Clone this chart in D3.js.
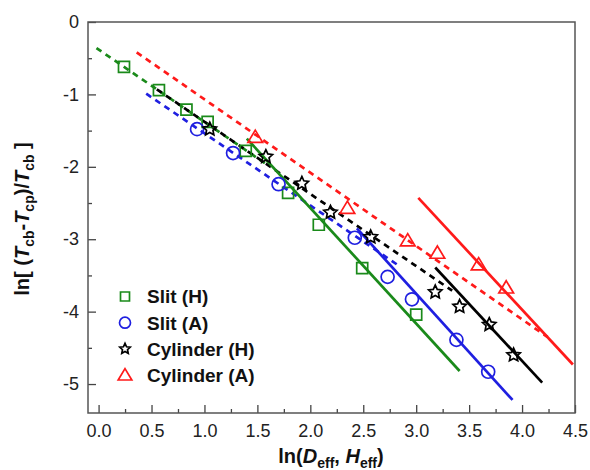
<!DOCTYPE html>
<html>
<head>
<meta charset="utf-8">
<script src="https://cdn.jsdelivr.net/npm/d3@7"></script>
<style>
  body { margin: 0; background: #fff; }
  svg { display: block; font-family: "Liberation Sans", Arial, sans-serif; }
</style>
</head>
<body>
<svg id="chart" width="590" height="470"></svg>
<script>
// ---------- data ----------
const seriesNames = ["Slit (H)", "Slit (A)", "Cylinder (H)", "Cylinder (A)"];
const seriesColors = ["#1a8a1a", "#1f1fe0", "#000000", "#ff1a1a"];
const seriesSymbols = ["square", "circle", "star", "triangle"];

const slitH_x = [0.24, 0.57, 0.83, 1.03, 1.39, 1.79, 2.08, 2.49, 3.00];
const slitH_y = [-0.62, -0.94, -1.21, -1.38, -1.78, -2.36, -2.80, -3.40, -4.04];

const slitA_x = [0.93, 1.27, 1.70, 2.42, 2.73, 2.96, 3.38, 3.68];
const slitA_y = [-1.48, -1.81, -2.24, -2.98, -3.52, -3.83, -4.39, -4.83];

const cylH_x = [1.05, 1.58, 1.92, 2.19, 2.57, 3.18, 3.41, 3.69, 3.92];
const cylH_y = [-1.48, -1.86, -2.23, -2.63, -2.97, -3.73, -3.93, -4.18, -4.60];

const cylA_x = [1.48, 2.35, 2.92, 3.20, 3.59, 3.85];
const cylA_y = [-1.59, -2.57, -3.02, -3.19, -3.35, -3.67];

// fitted lines: [x start, y start, x end, y end]
const dashedFits = [
  [-0.02, -0.36, 1.60, -1.98],   // Slit (H)
  [0.45, -0.99, 2.82, -3.35],    // Slit (A)
  [0.55, -0.93, 3.34, -3.71],    // Cylinder (H)
  [0.36, -0.42, 4.24, -4.35]     // Cylinder (A)
];
const solidFits = [
  [1.40, -1.61, 3.41, -4.82],
  [2.44, -2.85, 3.91, -5.22],
  [3.18, -3.39, 4.19, -4.98],
  [3.02, -2.43, 4.48, -4.73]
];

const xMajorTicks = [0, 0.5, 1, 1.5, 2, 2.5, 3, 3.5, 4, 4.5];
const xMinorTicks = [0.25, 0.75, 1.25, 1.75, 2.25, 2.75, 3.25, 3.75, 4.25];
const yMajorTicks = [0, -1, -2, -3, -4, -5];
const yMinorTicks = [-0.5, -1.5, -2.5, -3.5, -4.5];

// ---------- layout ----------
const svg = d3.select("#chart");
const L = 88, R = 575, T = 22, B = 413;
const x = d3.scaleLinear().domain([-0.1, 4.5]).range([L, R]);
const y = d3.scaleLinear().domain([-5.4, 0]).range([B, T]);

// axes
const gx = svg.append("g").attr("transform", `translate(0,${B})`)
  .call(d3.axisBottom(x).tickValues(xMajorTicks).tickSize(-8).tickPadding(11).tickFormat(d3.format(".1f")));
const gxm = svg.append("g").attr("transform", `translate(0,${B})`)
  .call(d3.axisBottom(x).tickValues(xMinorTicks).tickSize(-4).tickFormat(""));
const gy = svg.append("g").attr("transform", `translate(${L},0)`)
  .call(d3.axisLeft(y).tickValues(yMajorTicks).tickSize(-8).tickPadding(9).tickFormat(d => d3.format("d")(d).replace("−", "-")));
const gym = svg.append("g").attr("transform", `translate(${L},0)`)
  .call(d3.axisLeft(y).tickValues(yMinorTicks).tickSize(-4).tickFormat(""));
[gx, gxm, gy, gym].forEach(g => {
  g.select(".domain").remove();
  g.selectAll(".tick line").attr("stroke", "#444").attr("stroke-width", 1.3);
  g.selectAll(".tick text").attr("fill", "#222").attr("font-size", 18)
    .attr("font-family", "Liberation Sans, Arial, sans-serif");
});

// frame
svg.append("rect").attr("x", L).attr("y", T).attr("width", R - L).attr("height", B - T)
  .attr("fill", "none").attr("stroke", "#555").attr("stroke-width", 1.5);

// fit lines
const plot = svg.append("g");
dashedFits.forEach((f, i) => {
  plot.append("line")
    .attr("x1", x(f[0])).attr("y1", y(f[1])).attr("x2", x(f[2])).attr("y2", y(f[3]))
    .attr("stroke", seriesColors[i]).attr("stroke-width", 2.7)
    .attr("stroke-dasharray", "6,5");
});
solidFits.forEach((f, i) => {
  plot.append("line")
    .attr("x1", x(f[0])).attr("y1", y(f[1])).attr("x2", x(f[2])).attr("y2", y(f[3]))
    .attr("stroke", seriesColors[i]).attr("stroke-width", 2.7);
});

// symbol paths
function symbolPath(type, s) {
  if (type === "square") {
    const h = s / 2;
    return `M${-h},${-h}H${h}V${h}H${-h}Z`;
  }
  if (type === "circle") {
    const r = s / 2;
    return `M${r},0A${r},${r} 0 1,1 ${-r},0A${r},${r} 0 1,1 ${r},0Z`;
  }
  if (type === "triangle") {
    const h = s / 2;
    return `M0,${-h}L${h * 1.05},${h * 0.75}L${-h * 1.05},${h * 0.75}Z`;
  }
  if (type === "star") {
    const ro = s / 2, ri = ro * 0.48;
    let p = "";
    for (let k = 0; k < 10; k++) {
      const r = k % 2 === 0 ? ro : ri;
      const a = -Math.PI / 2 + k * Math.PI / 5;
      p += (k === 0 ? "M" : "L") + (r * Math.cos(a)).toFixed(2) + "," + (r * Math.sin(a)).toFixed(2);
    }
    return p + "Z";
  }
}

const seriesData = [
  [slitH_x, slitH_y], [slitA_x, slitA_y], [cylH_x, cylH_y], [cylA_x, cylA_y]
];
const markerSizes = [11, 13, 14, 14];
seriesData.forEach((sd, i) => {
  const pts = sd[0].map((v, j) => [v, sd[1][j]]);
  plot.selectAll(null).data(pts).enter().append("path")
    .attr("d", symbolPath(seriesSymbols[i], markerSizes[i]))
    .attr("transform", d => `translate(${x(d[0])},${y(d[1])})`)
    .attr("fill", "none").attr("stroke", seriesColors[i]).attr("stroke-width", 1.7);
});

// legend
const legend = svg.append("g");
const legendSizes = [9, 11, 11, 13];
seriesNames.forEach((name, i) => {
  const ly = 296.5 + i * 26.2;
  legend.append("path").attr("d", symbolPath(seriesSymbols[i], legendSizes[i]))
    .attr("transform", `translate(125,${ly})`)
    .attr("fill", "none").attr("stroke", seriesColors[i]).attr("stroke-width", 1.7);
  legend.append("text").attr("x", 147).attr("y", ly).attr("dy", "0.36em")
    .attr("font-size", 19).attr("font-weight", "bold").attr("fill", "#111").text(name);
});

// axis titles
const xt = svg.append("text").attr("x", 331).attr("y", 463).attr("text-anchor", "middle")
  .attr("font-size", 20).attr("font-weight", "bold").attr("fill", "#111");
xt.append("tspan").text("ln(");
xt.append("tspan").attr("font-style", "italic").text("D");
xt.append("tspan").attr("font-size", 14).attr("dy", 5).text("eff");
xt.append("tspan").attr("dy", -5).text(", ");
xt.append("tspan").attr("font-style", "italic").text("H");
xt.append("tspan").attr("font-size", 14).attr("dy", 5).text("eff");
xt.append("tspan").attr("dy", -5).text(")");

const yt = svg.append("text").attr("transform", "translate(29,219) rotate(-90)")
  .attr("text-anchor", "middle").attr("font-size", 20).attr("font-weight", "bold").attr("fill", "#111");
yt.append("tspan").text("ln[ (");
yt.append("tspan").attr("font-style", "italic").text("T");
yt.append("tspan").attr("font-size", 14).attr("dy", 5).text("cb");
yt.append("tspan").attr("dy", -5).text("-");
yt.append("tspan").attr("font-style", "italic").text("T");
yt.append("tspan").attr("font-size", 14).attr("dy", 5).text("cp");
yt.append("tspan").attr("dy", -5).text(")/");
yt.append("tspan").attr("font-style", "italic").text("T");
yt.append("tspan").attr("font-size", 14).attr("dy", 5).text("cb");
yt.append("tspan").attr("dy", -5).text(" ]");
</script>
</body>
</html>
